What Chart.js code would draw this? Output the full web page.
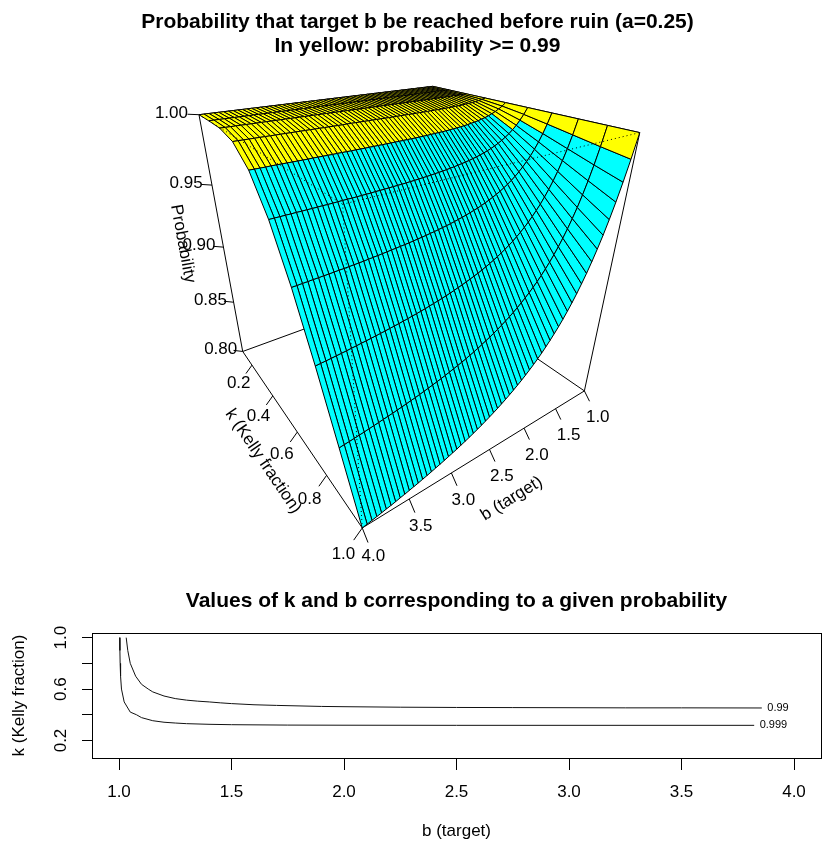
<!DOCTYPE html>
<html>
<head>
<meta charset="utf-8">
<title>Probability that target b be reached before ruin</title>
<script src="https://cdn.jsdelivr.net/npm/chart.js"></script>
<style>
  html, body { margin: 0; padding: 0; background: #fff; overflow: hidden; }
  #surface { position: absolute; left: 0; top: 0; }
  #contours { position: absolute; left: 0; top: 580px; }
</style>
</head>
<body>
<canvas id="surface" width="835" height="580"></canvas>
<canvas id="contours" width="913" height="264"></canvas>
<script>
// grid of the surface: k (Kelly fraction) rows, b (target) columns
const kValues = [0.1, 0.2, 0.3, 0.4, 0.5, 0.6, 0.7, 0.8, 0.9, 1.0];
const bValues = [
  1, 1.05, 1.1, 1.15, 1.2, 1.25, 1.3, 1.35, 1.4, 1.45,
  1.5, 1.55, 1.6, 1.65, 1.7, 1.75, 1.8, 1.85, 1.9, 1.95,
  2, 2.05, 2.1, 2.15, 2.2, 2.25, 2.3, 2.35, 2.4, 2.45,
  2.5, 2.55, 2.6, 2.65, 2.7, 2.75, 2.8, 2.85, 2.9, 2.95,
  3, 3.05, 3.1, 3.15, 3.2, 3.25, 3.3, 3.35, 3.4, 3.45,
  3.5, 3.55, 3.6, 3.65, 3.7, 3.75, 3.8, 3.85, 3.9, 3.95,
  4
];

// probability of reaching b before ruin, one row per k
const probK01 = [
  1, 1, 1, 1, 1, 1, 1, 1, 1, 1,
  1, 1, 1, 1, 1, 1, 1, 1, 1, 1,
  1, 1, 1, 1, 1, 1, 1, 1, 1, 1,
  1, 1, 1, 1, 1, 1, 1, 1, 1, 1,
  1, 1, 1, 1, 1, 1, 1, 1, 1, 1,
  1, 1, 1, 1, 1, 1, 1, 1, 1, 1,
  1
];
const probK02 = [
  1, 1, 1, 1, 1, 1, 1, 1, 1, 1,
  1, 1, 1, 1, 1, 1, 1, 1, 1, 1,
  1, 1, 1, 1, 1, 1, 1, 1, 1, 1,
  1, 1, 1, 1, 1, 1, 1, 1, 1, 1,
  1, 1, 1, 1, 1, 1, 1, 1, 1, 1,
  1, 1, 1, 1, 1, 1, 1, 1, 1, 1,
  1
];
const probK03 = [
  1, 0.9999, 0.9998, 0.9998, 0.9998, 0.9997, 0.9997, 0.9997, 0.9997, 0.9997,
  0.9997, 0.9996, 0.9996, 0.9996, 0.9996, 0.9996, 0.9996, 0.9996, 0.9996, 0.9996,
  0.9996, 0.9996, 0.9996, 0.9996, 0.9996, 0.9996, 0.9996, 0.9996, 0.9996, 0.9996,
  0.9996, 0.9996, 0.9996, 0.9996, 0.9996, 0.9996, 0.9996, 0.9996, 0.9996, 0.9996,
  0.9996, 0.9996, 0.9996, 0.9996, 0.9996, 0.9996, 0.9996, 0.9996, 0.9996, 0.9996,
  0.9996, 0.9996, 0.9996, 0.9996, 0.9996, 0.9996, 0.9996, 0.9996, 0.9996, 0.9996,
  0.9996
];
const probK04 = [
  1, 0.9993, 0.9988, 0.9983, 0.9980, 0.9977, 0.9975, 0.9973, 0.9971, 0.9970,
  0.9969, 0.9968, 0.9967, 0.9966, 0.9966, 0.9965, 0.9965, 0.9964, 0.9964, 0.9964,
  0.9963, 0.9963, 0.9963, 0.9963, 0.9963, 0.9962, 0.9962, 0.9962, 0.9962, 0.9962,
  0.9962, 0.9962, 0.9962, 0.9962, 0.9962, 0.9962, 0.9962, 0.9962, 0.9961, 0.9961,
  0.9961, 0.9961, 0.9961, 0.9961, 0.9961, 0.9961, 0.9961, 0.9961, 0.9961, 0.9961,
  0.9961, 0.9961, 0.9961, 0.9961, 0.9961, 0.9961, 0.9961, 0.9961, 0.9961, 0.9961,
  0.9961
];
const probK05 = [
  1, 0.9978, 0.9961, 0.9946, 0.9934, 0.9923, 0.9914, 0.9907, 0.9900, 0.9894,
  0.9890, 0.9885, 0.9881, 0.9878, 0.9875, 0.9873, 0.9870, 0.9868, 0.9866, 0.9865,
  0.9863, 0.9862, 0.9860, 0.9859, 0.9858, 0.9857, 0.9856, 0.9856, 0.9855, 0.9854,
  0.9854, 0.9853, 0.9853, 0.9852, 0.9852, 0.9851, 0.9851, 0.9850, 0.9850, 0.9850,
  0.9849, 0.9849, 0.9849, 0.9849, 0.9848, 0.9848, 0.9848, 0.9848, 0.9848, 0.9847,
  0.9847, 0.9847, 0.9847, 0.9847, 0.9847, 0.9847, 0.9847, 0.9846, 0.9846, 0.9846,
  0.9846
];
const probK06 = [
  1, 0.9956, 0.9919, 0.9887, 0.9860, 0.9836, 0.9816, 0.9798, 0.9782, 0.9768,
  0.9755, 0.9744, 0.9734, 0.9725, 0.9717, 0.9710, 0.9703, 0.9697, 0.9692, 0.9687,
  0.9682, 0.9678, 0.9674, 0.9670, 0.9667, 0.9664, 0.9661, 0.9658, 0.9656, 0.9653,
  0.9651, 0.9649, 0.9647, 0.9645, 0.9644, 0.9642, 0.9641, 0.9639, 0.9638, 0.9637,
  0.9635, 0.9634, 0.9633, 0.9632, 0.9631, 0.9631, 0.9630, 0.9629, 0.9628, 0.9627,
  0.9627, 0.9626, 0.9625, 0.9625, 0.9624, 0.9624, 0.9623, 0.9623, 0.9622, 0.9622,
  0.9621
];
const probK07 = [
  1, 0.9929, 0.9868, 0.9815, 0.9769, 0.9728, 0.9692, 0.9660, 0.9631, 0.9605,
  0.9582, 0.9561, 0.9542, 0.9524, 0.9509, 0.9494, 0.9481, 0.9468, 0.9457, 0.9446,
  0.9437, 0.9428, 0.9419, 0.9411, 0.9404, 0.9397, 0.9390, 0.9384, 0.9379, 0.9373,
  0.9368, 0.9364, 0.9359, 0.9355, 0.9351, 0.9347, 0.9343, 0.9340, 0.9337, 0.9334,
  0.9331, 0.9328, 0.9325, 0.9322, 0.9320, 0.9318, 0.9315, 0.9313, 0.9311, 0.9309,
  0.9307, 0.9306, 0.9304, 0.9302, 0.9301, 0.9299, 0.9298, 0.9296, 0.9295, 0.9293,
  0.9292
];
const probK08 = [
  1, 0.9900, 0.9813, 0.9737, 0.9669, 0.9609, 0.9556, 0.9508, 0.9464, 0.9425,
  0.9389, 0.9356, 0.9326, 0.9298, 0.9273, 0.9249, 0.9228, 0.9207, 0.9189, 0.9171,
  0.9155, 0.9139, 0.9125, 0.9111, 0.9098, 0.9087, 0.9075, 0.9065, 0.9054, 0.9045,
  0.9036, 0.9027, 0.9019, 0.9011, 0.9004, 0.8997, 0.8990, 0.8983, 0.8977, 0.8971,
  0.8966, 0.8960, 0.8955, 0.8950, 0.8945, 0.8941, 0.8936, 0.8932, 0.8928, 0.8924,
  0.8920, 0.8917, 0.8913, 0.8910, 0.8906, 0.8903, 0.8900, 0.8897, 0.8894, 0.8892,
  0.8889
];
const probK09 = [
  1, 0.9871, 0.9758, 0.9659, 0.9570, 0.9490, 0.9419, 0.9354, 0.9295, 0.9241,
  0.9192, 0.9146, 0.9105, 0.9066, 0.9030, 0.8997, 0.8966, 0.8937, 0.8910, 0.8884,
  0.8860, 0.8838, 0.8817, 0.8797, 0.8778, 0.8760, 0.8743, 0.8727, 0.8712, 0.8697,
  0.8683, 0.8670, 0.8657, 0.8645, 0.8634, 0.8623, 0.8612, 0.8602, 0.8592, 0.8583,
  0.8574, 0.8565, 0.8557, 0.8549, 0.8541, 0.8534, 0.8527, 0.8520, 0.8513, 0.8507,
  0.8501, 0.8495, 0.8489, 0.8483, 0.8478, 0.8472, 0.8467, 0.8462, 0.8457, 0.8453,
  0.8448
];
const probK10 = [
  1, 0.9844, 0.9706, 0.9583, 0.9474, 0.9375, 0.9286, 0.9205, 0.9130, 0.9063,
  0.9000, 0.8942, 0.8889, 0.8839, 0.8793, 0.8750, 0.8710, 0.8672, 0.8636, 0.8603,
  0.8571, 0.8542, 0.8514, 0.8487, 0.8462, 0.8438, 0.8415, 0.8393, 0.8372, 0.8352,
  0.8333, 0.8315, 0.8298, 0.8281, 0.8265, 0.8250, 0.8235, 0.8221, 0.8208, 0.8194,
  0.8182, 0.8170, 0.8158, 0.8147, 0.8136, 0.8125, 0.8115, 0.8105, 0.8095, 0.8086,
  0.8077, 0.8068, 0.8060, 0.8051, 0.8043, 0.8036, 0.8028, 0.8021, 0.8014, 0.8007,
  0.8000
];
const probRows = [probK01, probK02, probK03, probK04, probK05, probK06, probK07, probK08, probK09, probK10];
const yellowFrom = 0.99;

// contour lines of the lower plot (b, k)
const contourLevels = ['0.99', '0.999'];
const b990 = [1.032, 1.039, 1.050, 1.074, 1.100, 1.130, 1.150, 1.200, 1.250, 1.300, 1.350, 1.401, 1.450,
  1.500, 1.600, 1.700, 1.800, 1.900, 2.000, 2.250, 2.500, 2.750, 3.000, 3.250, 3.500, 3.857];
const k990 = [1.000, 0.900, 0.800, 0.700, 0.637, 0.600, 0.578, 0.546, 0.526, 0.514, 0.506, 0.500, 0.493,
  0.487, 0.478, 0.473, 0.469, 0.465, 0.463, 0.459, 0.457, 0.456, 0.455, 0.454, 0.454, 0.453];
const b999 = [1.003, 1.004, 1.005, 1.007, 1.011, 1.023, 1.050, 1.078, 1.100, 1.150, 1.200, 1.250, 1.300,
  1.400, 1.500, 1.750, 2.000, 2.500, 3.000, 3.823];
const k999 = [1.000, 0.900, 0.800, 0.700, 0.600, 0.500, 0.421, 0.400, 0.378, 0.354, 0.342, 0.336, 0.331,
  0.326, 0.323, 0.320, 0.319, 0.318, 0.318, 0.318];

// tick values
const zAxisTicks = [0.80, 0.85, 0.90, 0.95, 1.00];
const kAxisTicks = [0.2, 0.4, 0.6, 0.8, 1.0];
const bAxisTicks = [1.0, 1.5, 2.0, 2.5, 3.0, 3.5, 4.0];
const kAxisShown = ['0.2', '', '0.6', '', '1.0'];

Chart.defaults.font.family = "'Liberation Sans', Arial, sans-serif";
Chart.defaults.color = '#000';
const fontFamily = Chart.defaults.font.family;

// ---- perspective view, like R persp(theta = 145, phi = 28)
const theta = 145 * Math.PI / 180;
const phi = 28 * Math.PI / 180;
const viewR = Math.sqrt(3), viewD = 1;
const viewWindow = { xMin: -0.7874, xMax: 0.8371, yMin: -0.6184, yMax: 0.3972 };

function norm(v, range) {
  return 2 * (v - range[0]) / (range[1] - range[0]) - 1;
}

function project(p) {
  const x = p[0], y = p[1], z = p[2];
  const X = Math.cos(theta) * x + Math.sin(theta) * y;
  const depth = Math.sin(theta) * x - Math.cos(theta) * y;
  const Y = Math.cos(phi) * z - Math.sin(phi) * depth;
  const Z = Math.sin(phi) * z + Math.cos(phi) * depth;
  const w = 1 + (viewR + viewD - Z) / viewD;
  return { x: X / w, y: Y / w, w: w };
}

const bRange = [bValues[0], bValues[bValues.length - 1]];
const kRange = [kValues[0], kValues[kValues.length - 1]];
const allProb = [].concat(...probRows);
const zRange = [Math.min(...allProb), Math.max(...allProb)];

// one filled quad per grid cell, nearest first (first dataset is painted last)
const facets = [];
for (let i = 0; i < kValues.length - 1; i++) {
  for (let j = 0; j < bValues.length - 1; j++) {
    const cells = [[i, j], [i, j + 1], [i + 1, j + 1], [i + 1, j]];
    const pts = cells.map(c => project([norm(bValues[c[1]], bRange), norm(kValues[c[0]], kRange), norm(probRows[c[0]][c[1]], zRange)]));
    const mean = cells.reduce((s, c) => s + probRows[c[0]][c[1]], 0) / 4;
    const depth = pts.reduce((s, p) => s + p.w, 0) / 4;
    facets.push({ pts: pts, depth: depth, color: mean >= yellowFrom ? '#ffff00' : '#00ffff' });
  }
}
facets.sort((f, g) => f.depth - g.depth);

const surfaceSets = facets.map(f => ({
  data: f.pts.concat([f.pts[0]]).map(p => ({ x: p.x, y: p.y })),
  fill: 'shape',
  backgroundColor: f.color,
  borderColor: '#000',
  borderWidth: 1,
  pointRadius: 0,
  order: 1
}));

// box: back edges solid under the surface, front edges dotted over it
const corner = {
  A: [1, -1, -1], B: [1, 1, -1], C: [-1, 1, -1], H: [-1, -1, -1],
  D: [1, -1, 1], G: [1, 1, 1], E: [-1, 1, 1], F: [-1, -1, 1]
};
const backEdges = ['AB', 'BC', 'CH', 'HA', 'CE', 'HF', 'EF', 'AD', 'DF'];
const frontEdges = ['DG', 'GE', 'BG'];
function edgeSet(name, dotted) {
  return {
    data: [corner[name[0]], corner[name[1]]].map(project).map(p => ({ x: p.x, y: p.y })),
    borderColor: '#000',
    borderWidth: 1,
    borderDash: dotted ? [1, 3] : [],
    pointRadius: 0,
    fill: false,
    order: dotted ? 0 : 2
  };
}

// gap: label offset in tick lengths; gapPx: fixed screen offset along the tick
const perspAxes = [
  { ticks: zAxisTicks, digits: 2, range: zRange, at: v => [1, -1, norm(v, zRange)], dir: [1, -1, 0], title: 'Probability', gap: 2.4 },
  { ticks: kAxisTicks, digits: 1, range: kRange, at: v => [1, norm(v, kRange), -1], dir: [1, 0, -1], title: 'k (Kelly fraction)', gap: 2.2 },
  { ticks: bAxisTicks, digits: 1, range: bRange, at: v => [norm(v, bRange), 1, -1], dir: [0, 1, -1], title: 'b (target)', gapPx: 30 }
];
const tickLen = 0.06;

const perspAxisPlugin = {
  id: 'perspAxes',
  afterDraw(chart) {
    const ctx = chart.ctx;
    const sx = chart.scales.x, sy = chart.scales.y;
    const toPixel = n => {
      const p = project(n);
      return [sx.getPixelForValue(p.x), sy.getPixelForValue(p.y)];
    };
    const shift = (n, d, s) => n.map((c, i) => c + d[i] * s);
    ctx.save();
    ctx.strokeStyle = '#000';
    ctx.fillStyle = '#000';
    ctx.lineWidth = 1;
    ctx.font = '17px ' + fontFamily;
    ctx.textAlign = 'center';
    ctx.textBaseline = 'middle';
    perspAxes.forEach(axis => {
      axis.ticks.forEach(v => {
        const base = axis.at(v);
        const a = toPixel(base);
        const t = toPixel(shift(base, axis.dir, tickLen));
        ctx.beginPath();
        ctx.moveTo(a[0], a[1]);
        ctx.lineTo(t[0], t[1]);
        ctx.stroke();
        let l;
        if (axis.gapPx) {
          const len = Math.hypot(t[0] - a[0], t[1] - a[1]);
          l = [a[0] + (t[0] - a[0]) / len * axis.gapPx, a[1] + (t[1] - a[1]) / len * axis.gapPx];
        } else {
          l = toPixel(shift(base, axis.dir, tickLen * axis.gap));
        }
        ctx.fillText(v.toFixed(axis.digits), l[0], l[1]);
      });
      const p0 = toPixel(axis.at(axis.range[0]));
      const p1 = toPixel(axis.at(axis.range[1]));
      let ang = Math.atan2(p1[1] - p0[1], p1[0] - p0[0]);
      if (ang > Math.PI / 2) ang -= Math.PI;
      if (ang <= -Math.PI / 2) ang += Math.PI;
      const m = toPixel(shift(axis.at((axis.range[0] + axis.range[1]) / 2), axis.dir, tickLen * 4));
      ctx.save();
      ctx.translate(m[0], m[1]);
      ctx.rotate(ang);
      ctx.fillText(axis.title, 0, 0);
      ctx.restore();
    });
    ctx.restore();
  }
};

new Chart(document.getElementById('surface'), {
  type: 'line',
  data: {
    datasets: backEdges.map(e => edgeSet(e, false))
      .concat(surfaceSets)
      .concat(frontEdges.map(e => edgeSet(e, true)))
  },
  options: {
    responsive: false,
    animation: false,
    events: [],
    layout: { padding: 0 },
    plugins: {
      legend: { display: false },
      tooltip: { enabled: false },
      title: {
        display: true,
        text: ['Probability that target b be reached before ruin (a=0.25)', 'In yellow: probability >= 0.99'],
        color: '#000',
        font: { size: 21, weight: 'bold', lineHeight: 24 / 21 },
        padding: { top: 10, bottom: 0 }
      }
    },
    scales: {
      x: { type: 'linear', display: false, min: viewWindow.xMin, max: viewWindow.xMax },
      y: { type: 'linear', display: false, min: viewWindow.yMin, max: viewWindow.yMax }
    }
  },
  plugins: [perspAxisPlugin]
});

// ---- lower plot: contour lines of k against b
const plotFrame = {
  id: 'plotFrame',
  afterDraw(chart) {
    const ctx = chart.ctx, a = chart.chartArea;
    ctx.save();
    ctx.strokeStyle = '#000';
    ctx.lineWidth = 1;
    ctx.strokeRect(Math.round(a.left) + 0.5, Math.round(a.top) + 0.5,
      Math.round(a.right - a.left), Math.round(a.bottom - a.top));
    ctx.restore();
  }
};

const contourLabels = {
  id: 'contourLabels',
  afterDatasetsDraw(chart) {
    const ctx = chart.ctx;
    ctx.save();
    ctx.font = '11px ' + fontFamily;
    ctx.fillStyle = '#000';
    ctx.textAlign = 'left';
    ctx.textBaseline = 'middle';
    chart.data.datasets.forEach((ds, i) => {
      const pts = chart.getDatasetMeta(i).data;
      const end = pts[pts.length - 1];
      ctx.fillText(ds.label, end.x + 5.5, end.y);
    });
    ctx.restore();
  }
};

const xPad = 0.04 * (bRange[1] - bRange[0]);
const yPad = 0.04 * (kRange[1] - kRange[0]);

new Chart(document.getElementById('contours'), {
  type: 'line',
  data: {
    datasets: [
      { label: contourLevels[0], data: b990.map((b, i) => ({ x: b, y: k990[i] })),
        borderColor: '#111', borderWidth: 1, pointRadius: 0, fill: false },
      { label: contourLevels[1], data: b999.map((b, i) => ({ x: b, y: k999[i] })),
        borderColor: '#111', borderWidth: 1, pointRadius: 0, fill: false }
    ]
  },
  options: {
    responsive: false,
    animation: false,
    events: [],
    layout: { padding: 0 },
    plugins: {
      legend: { display: false },
      tooltip: { enabled: false },
      title: {
        display: true,
        text: 'Values of k and b corresponding to a given probability',
        color: '#000',
        font: { size: 21, weight: 'bold', lineHeight: 1.2 },
        padding: { top: 9.1, bottom: 18.7 }
      }
    },
    scales: {
      x: {
        type: 'linear',
        min: bRange[0] - xPad,
        max: bRange[1] + xPad,
        afterBuildTicks: s => { s.ticks = bAxisTicks.map(v => ({ value: v })); },
        afterFit: s => { s.height = 86; },
        ticks: { color: '#000', font: { size: 17 }, padding: 11.8, maxRotation: 0, autoSkip: false,
          callback: v => v.toFixed(1) },
        grid: { drawOnChartArea: false, drawTicks: true, tickLength: 12, tickColor: '#000', color: '#000' },
        border: { display: true, color: '#000' },
        title: { display: true, text: 'b (target)', color: '#000', font: { size: 17 }, padding: { top: 0, bottom: 2.8 } }
      },
      y: {
        type: 'linear',
        position: 'left',
        min: kRange[0] - yPad,
        max: kRange[1] + yPad,
        afterBuildTicks: s => { s.ticks = kAxisTicks.map(v => ({ value: v })); },
        afterFit: s => { s.width = 92; },
        ticks: { color: '#000', font: { size: 17 }, padding: 8.7, minRotation: 90, maxRotation: 90,
          crossAlign: 'center', autoSkip: false, callback: (v, i) => kAxisShown[i] },
        grid: { drawOnChartArea: false, drawTicks: true, tickLength: 10, tickColor: '#000', color: '#000' },
        border: { display: true, color: '#000' },
        title: { display: true, text: 'k (Kelly fraction)', color: '#000', font: { size: 17 }, padding: { top: 8.8, bottom: 0 } }
      },
      yRight: {
        type: 'linear',
        position: 'right',
        afterFit: s => { s.width = 92; },
        ticks: { display: false },
        grid: { display: false },
        border: { display: false }
      }
    }
  },
  plugins: [plotFrame, contourLabels]
});
</script>
</body>
</html>
